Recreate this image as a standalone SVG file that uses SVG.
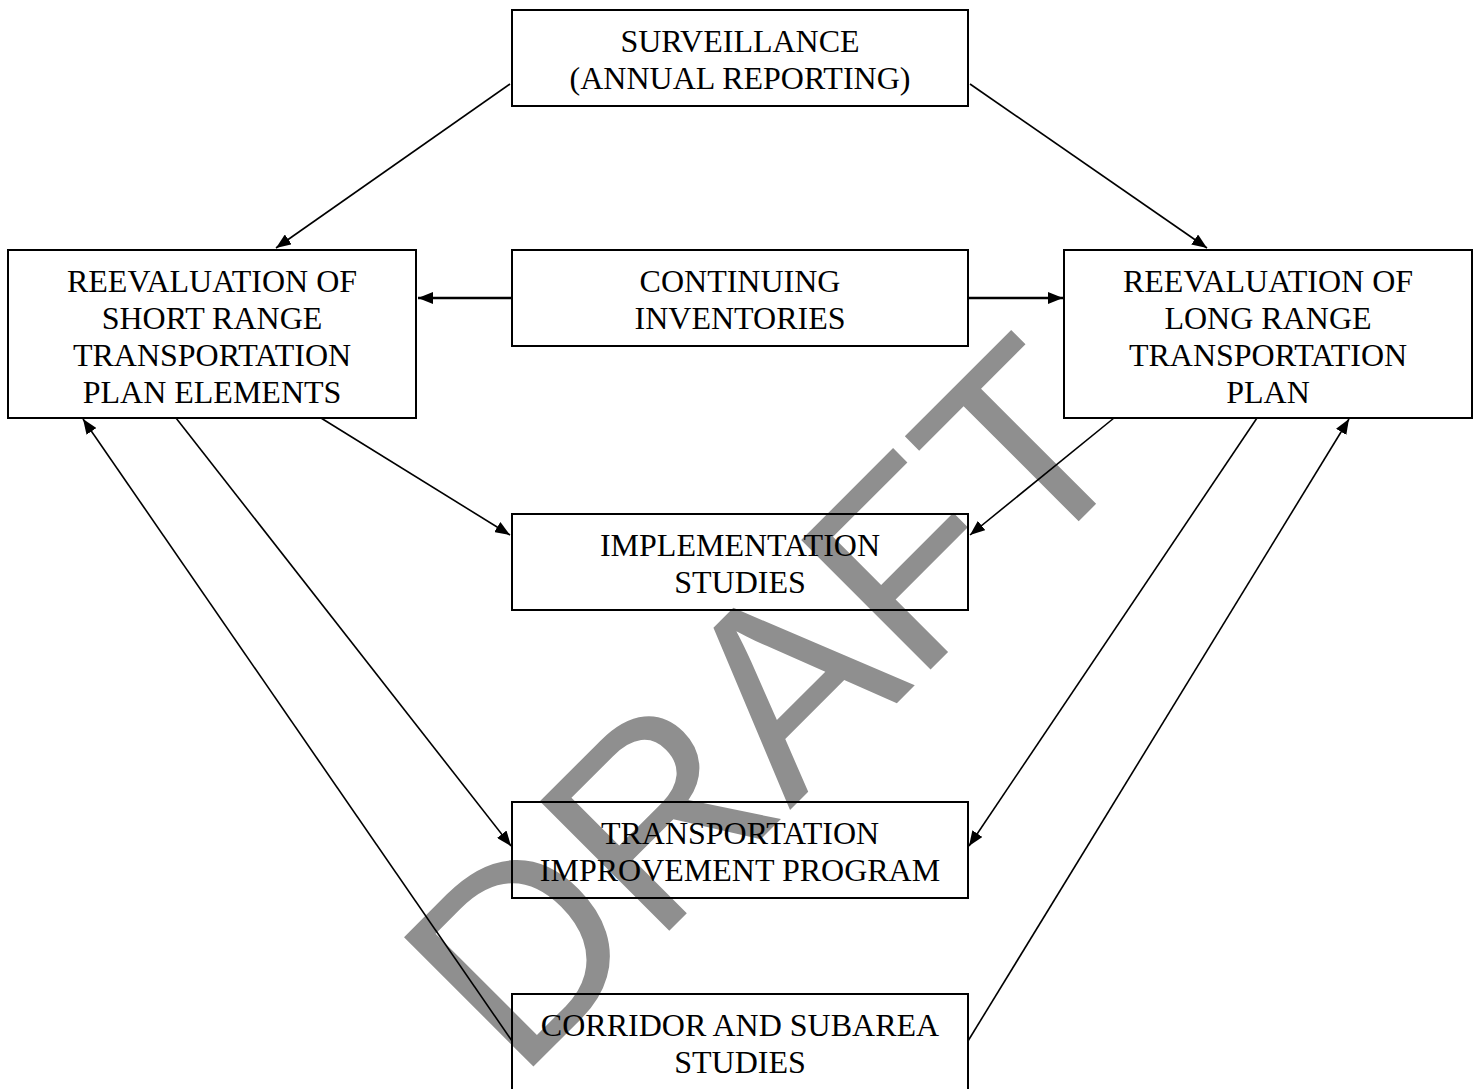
<svg xmlns="http://www.w3.org/2000/svg" width="1478" height="1089" viewBox="0 0 1478 1089">
  <style>
    .box { fill: none; stroke: #000; stroke-width: 2; }
    .lbl { font-family: "Liberation Serif", "Times New Roman", serif; font-size: 32px; fill: #000; text-anchor: middle; }
    .conn { stroke: #000; stroke-width: 1.6; fill: none; marker-end: url(#arr); }
    .thick { stroke-width: 2.6; }
    .wm { font-family: "Liberation Sans", Arial, sans-serif; font-size: 266px; fill: #8f8f8f; }
  </style>
  <defs>
    <marker id="arr" markerUnits="userSpaceOnUse" markerWidth="15" markerHeight="12" refX="15" refY="6" orient="auto">
      <path d="M0,0 L15,6 L0,12 z" fill="#000"/>
    </marker>
  </defs>
  <rect width="1478" height="1089" fill="#fff"/>

  <g id="watermark">
    <text class="wm" x="0" y="0" transform="translate(518,1082) rotate(-45)">DRAFT</text>
  </g>

  <g id="connectors">
    <path class="conn" d="M510,84 L276,248"/>
    <path class="conn" d="M970,84 L1207,248"/>
    <path class="conn thick" d="M512,298 L418,298"/>
    <path class="conn thick" d="M968,298 L1063,298"/>
    <path class="conn" d="M321,418 L510,535"/>
    <path class="conn" d="M1114,418 L970,535"/>
    <path class="conn" d="M176,418 L511,846"/>
    <path class="conn" d="M1257,418 L969,846"/>
    <path class="conn" d="M512,1041 L83,419"/>
    <path class="conn" d="M968,1041 L1349,419"/>
  </g>

  <g id="surveillance">
    <rect class="box" x="512" y="10" width="456" height="96"/>
    <text class="lbl" x="740" y="52">SURVEILLANCE</text>
    <text class="lbl" x="740" y="89">(ANNUAL REPORTING)</text>
  </g>

  <g id="short-range">
    <rect class="box" x="8" y="250" width="408" height="168"/>
    <text class="lbl" x="212" y="292">REEVALUATION OF</text>
    <text class="lbl" x="212" y="329">SHORT RANGE</text>
    <text class="lbl" x="212" y="366">TRANSPORTATION</text>
    <text class="lbl" x="212" y="403">PLAN ELEMENTS</text>
  </g>

  <g id="continuing">
    <rect class="box" x="512" y="250" width="456" height="96"/>
    <text class="lbl" x="740" y="292">CONTINUING</text>
    <text class="lbl" x="740" y="329">INVENTORIES</text>
  </g>

  <g id="long-range">
    <rect class="box" x="1064" y="250" width="408" height="168"/>
    <text class="lbl" x="1268" y="292">REEVALUATION OF</text>
    <text class="lbl" x="1268" y="329">LONG RANGE</text>
    <text class="lbl" x="1268" y="366">TRANSPORTATION</text>
    <text class="lbl" x="1268" y="403">PLAN</text>
  </g>

  <g id="implementation">
    <rect class="box" x="512" y="514" width="456" height="96"/>
    <text class="lbl" x="740" y="556">IMPLEMENTATION</text>
    <text class="lbl" x="740" y="593">STUDIES</text>
  </g>

  <g id="tip">
    <rect class="box" x="512" y="802" width="456" height="96"/>
    <text class="lbl" x="740" y="844">TRANSPORTATION</text>
    <text class="lbl" x="740" y="881">IMPROVEMENT PROGRAM</text>
  </g>

  <g id="corridor">
    <rect class="box" x="512" y="994" width="456" height="110"/>
    <text class="lbl" x="740" y="1036">CORRIDOR AND SUBAREA</text>
    <text class="lbl" x="740" y="1073">STUDIES</text>
  </g>
</svg>
